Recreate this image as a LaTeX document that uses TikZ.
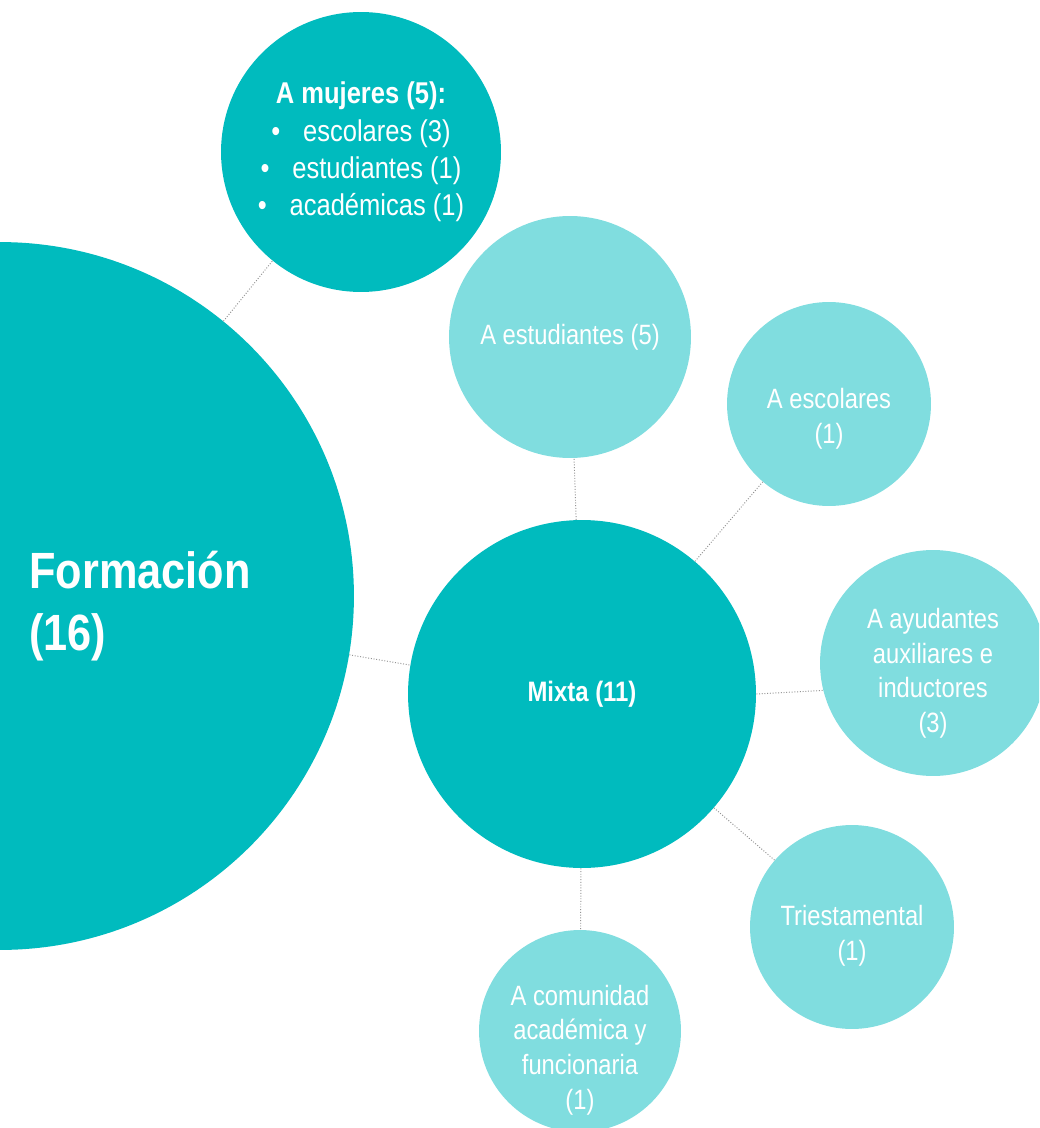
\documentclass[tikz,border=0pt]{standalone}
\usepackage{fontspec}
\setmainfont[FakeStretch=0.85]{Liberation Sans}
\usepackage{xcolor}
\usepackage{tikz}
\definecolor{tealdark}{RGB}{0,187,190}
\definecolor{teallight}{RGB}{128,221,223}
% lowers a centred block of lines without changing the circle size
\newcommand{\drop}[2]{\raisebox{-#1}[0pt][0pt]{\begin{tabular}{@{}c@{}}#2\end{tabular}}}
\tikzset{bubble/.style={circle,inner sep=0pt,draw=none,text=white,align=center},
    hub/.style={bubble,fill=tealdark},
    leaf/.style={bubble,fill=teallight,font=\fontsize{15.9}{19.9}\selectfont},
    link/.style={draw=gray!85,densely dotted,line width=0.55pt}}

\begin{document}
\begin{tikzpicture}[x=0.02cm,y=-0.02cm]
    \path[use as bounding box] (0,0) rectangle (1039,1128);
    \clip (0,0) rectangle (1039,1128);
    % main circles
    \node[hub,minimum size=14.16cm] (form) at (0,596) {};
    \node[anchor=west,inner sep=0pt,text=white,align=left,
        font=\bfseries\fontsize{29}{35.3}\selectfont] (formlbl) at (29,606) {Formación\\(16)};
    \node[hub,minimum size=5.6cm,font=\fontsize{17.1}{21.3}\selectfont] (mujer) at (361,152)
        {\textbf{A mujeres (5):}\\
         \textbullet\hspace{13pt}escolares (3)\\
         \textbullet\hspace{13pt}estudiantes (1)\\
         \textbullet\hspace{13pt}académicas (1)};
    \node[hub,minimum size=6.96cm,font=\bfseries\fontsize{16}{20}\selectfont] (mixta) at (582,694) {Mixta (11)};
    % children of Mixta
    \node[leaf,minimum size=4.84cm] (estud) at (570,337) {A estudiantes (5)};
    \node[leaf,minimum size=4.08cm] (escol) at (829,404) {\drop{13.1pt}{A escolares\\(1)}};
    \node[leaf,minimum size=4.52cm] (ayud) at (933,663) {\drop{10.3pt}{A ayudantes\\auxiliares e\\inductores\\(3)}};
    \node[leaf,minimum size=4.08cm] (tries) at (852,927) {\drop{9.7pt}{Triestamental\\(1)}};
    \node[leaf,minimum size=4.04cm] (comun) at (580,1031) {\drop{15.4pt}{A comunidad\\académica y\\funcionaria\\(1)}};
    % connectors
    \draw[link] (form) -- (mujer);
    \draw[link] (form) -- (mixta);
    \draw[link] (mixta) -- (estud);
    \draw[link] (mixta) -- (escol);
    \draw[link] (mixta.0) -- (ayud.194);
    \draw[link] (mixta) -- (tries);
    \draw[link] (mixta) -- (comun);
\end{tikzpicture}
\end{document}
